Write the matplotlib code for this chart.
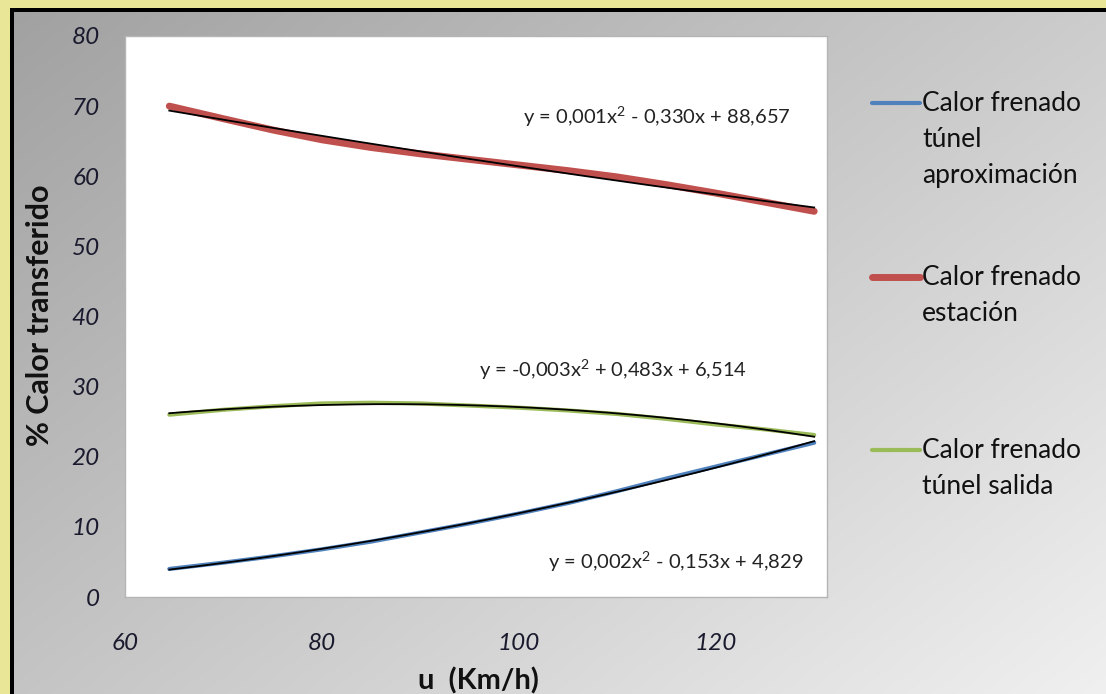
import matplotlib
matplotlib.use("Agg")
import matplotlib.pyplot as plt
from matplotlib.lines import Line2D
import numpy as np

plt.rcParams['font.family'] = ['Lato', 'DejaVu Sans']
plt.rcParams['mathtext.fontset'] = 'custom'
plt.rcParams['mathtext.rm'] = 'Lato'

# speed (Km/h) and % heat transferred
speed = [64.5, 70, 75, 80, 85, 90, 95, 100, 105, 110, 115, 120, 125, 130]
tunel_aprox = [4.0, 4.9, 5.8, 6.8, 7.9, 9.2, 10.5, 11.9, 13.4, 15.1, 16.9, 18.6, 20.3, 22.0]
estacion = [70.0, 68.2, 66.6, 65.2, 64.1, 63.2, 62.4, 61.6, 60.8, 59.9, 58.8, 57.6, 56.3, 55.0]
tunel_salida = [26.0, 26.7, 27.2, 27.6, 27.7, 27.6, 27.3, 27.0, 26.6, 26.1, 25.4, 24.6, 23.9, 23.1]

labels = ["Calor frenado\ntúnel\naproximación", "Calor frenado\nestación",
          "Calor frenado\ntúnel salida"]
colors = ["#4f81bd", "#c0504d", "#9bbb59"]
widths = [3.0, 5.0, 3.0]
equations = ["y = 0,002x$^{2}$ - 0,153x + 4,829", "y = 0,001x$^{2}$ - 0,330x + 88,657",
             "y = -0,003x$^{2}$ + 0,483x + 6,514"]
eq_pos = [(103.0, 5.0), (100.4, 68.5), (96.0, 32.5)]

W, H = 1106, 694
fig = plt.figure(figsize=(W / 100, H / 100), dpi=100)

# background: yellow border, black frame, grey gradient
yy, xx = np.mgrid[0:H, 0:W]
g = 160 + 80 * (0.55 * xx / W + 0.45 * yy / H)
bg = np.stack([g, g, g], axis=-1)
bg[(xx < 14) | (yy < 12)] = [0, 0, 0]
bg[(xx < 10) | (yy < 8)] = [233, 230, 152]
fig.figimage(bg.astype(np.uint8), xo=0, yo=0, origin='upper', zorder=-10)

ax = fig.add_axes([125 / W, 1 - 597 / H, 702 / W, 561 / H], zorder=1)
ax.set_facecolor("white")
series = [tunel_aprox, estacion, tunel_salida]
for vals, c, lw, eq, pos in zip(series, colors, widths, equations, eq_pos):
    ax.plot(speed, vals, color=c, lw=lw, solid_capstyle='round', zorder=2)
    coef = np.polyfit(speed, vals, 2)
    xs = np.linspace(min(speed), max(speed), 200)
    ax.plot(xs, np.polyval(coef, xs), color="black", lw=1.3, zorder=3)
    ax.text(pos[0], pos[1], eq, fontsize=14.5, color="#222222", va="center", ha="left")

ax.set_xlim(60, 131.3)
ax.set_ylim(0, 80)
ax.set_xticks([60, 80, 100, 120])
ax.set_yticks(range(0, 81, 10))
ax.tick_params(length=0, labelsize=17.5, colors="#1a1a2e")
ax.tick_params(axis='x', pad=26)
ax.tick_params(axis='y', pad=18)
for lab in ax.get_xticklabels() + ax.get_yticklabels():
    lab.set_fontstyle("italic")
for s in ax.spines.values():
    s.set_color("#b5b5b5")
    s.set_linewidth(1)

fig.text(478 / W, 1 - 681 / H, "u  (Km/h)", fontsize=21, fontweight="bold",
         ha="center", va="center", color="#111111")
fig.text(40 / W, 1 - 315 / H, "% Calor transferido", fontsize=22, fontweight="bold",
         ha="center", va="center", rotation=90, color="#111111")

# legend drawn by hand so the key sits on the first line of each entry
leg_y = [103, 277, 450]
for lab, c, lw, y in zip(labels, colors, widths, leg_y):
    fig.add_artist(Line2D([872 / W, 920 / W], [1 - y / H, 1 - y / H], color=c, lw=lw,
                          solid_capstyle='round', transform=fig.transFigure))
    fig.text(922 / W, 1 - (y - 12) / H, lab, fontsize=19, ha="left", va="top",
             linespacing=1.55, color="#111111")

fig.savefig("out.png", dpi=100)
